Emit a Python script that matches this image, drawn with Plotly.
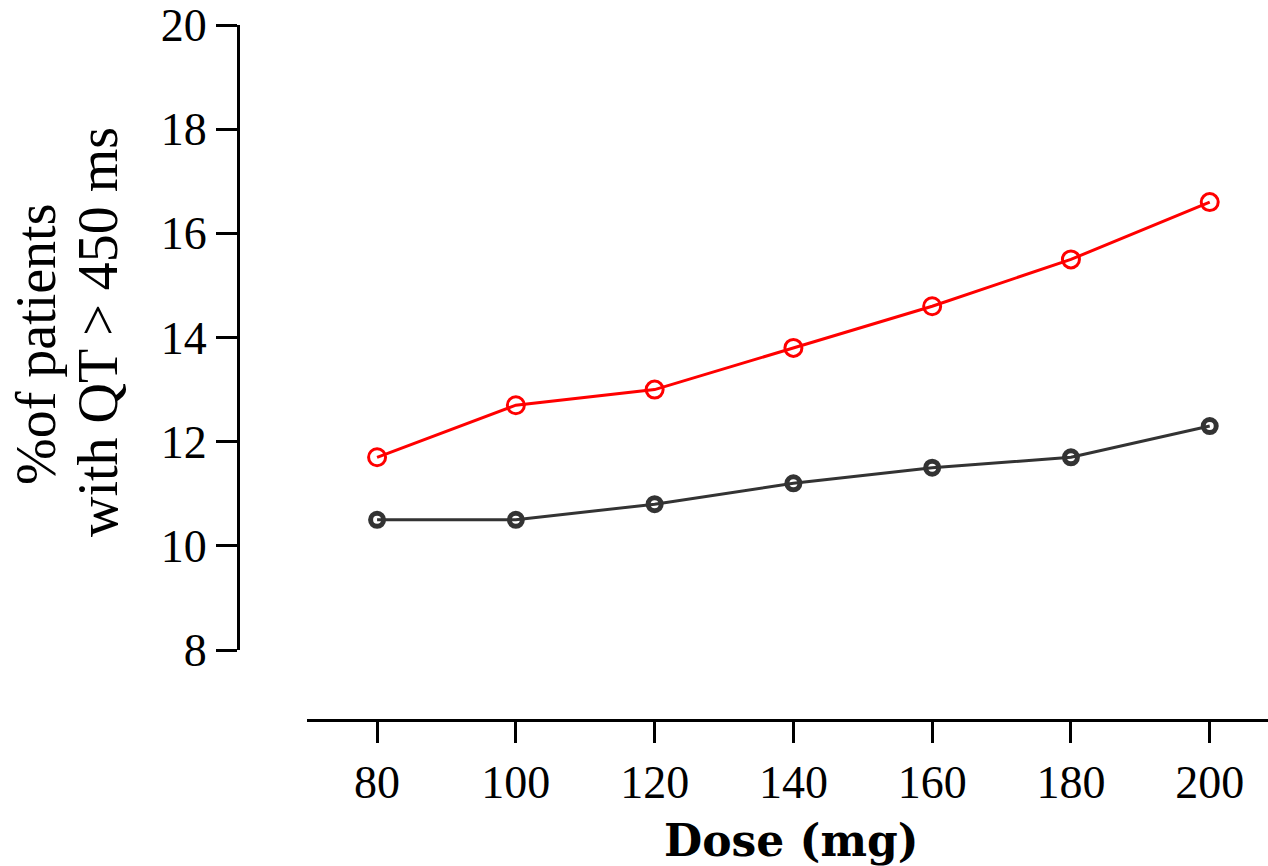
import plotly.graph_objects as go

dose = [80, 100, 120, 140, 160, 180, 200]
red_series = [11.7, 12.7, 13.0, 13.8, 14.6, 15.5, 16.6]
black_series = [10.5, 10.5, 10.8, 11.2, 11.5, 11.7, 12.3]
y_ticks = [8, 10, 12, 14, 16, 18, 20]
y_title_lines = ["%of patients", "with QT > 450 ms"]
x_title = "Dose (mg)"

W, H = 1268, 866
ML, MR, MT, MB = 238, 0, 25, 146
pw, ph = W - ML - MR, H - MT - MB

font = "Liberation Serif, Times New Roman, serif"
bold_font = "DejaVu Serif, serif"

fig = go.Figure()
fig.add_trace(go.Scatter(
    x=dose, y=black_series, mode="lines+markers",
    line=dict(color="#333333", width=3),
    marker=dict(symbol="circle-open", size=13, color="#333333", line=dict(width=5, color="#333333")),
    showlegend=False))
fig.add_trace(go.Scatter(
    x=dose, y=red_series, mode="lines+markers",
    line=dict(color="#ff0000", width=3),
    marker=dict(symbol="circle-open", size=17, color="#ff0000", line=dict(width=3, color="#ff0000")),
    showlegend=False))

x_dom0 = (307 - ML) / pw
y_dom0 = (720 - 650) / ph

fig.update_layout(
    width=W, height=H,
    margin=dict(l=ML, r=MR, t=MT, b=MB, pad=0),
    plot_bgcolor="white", paper_bgcolor="white",
    font=dict(family=font, size=46, color="black"),
    xaxis=dict(domain=[x_dom0, 1], range=[69.9, 208.4], anchor="free", position=0,
               tickvals=dose, ticks="outside", ticklen=21, tickwidth=3, tickcolor="black",
               showline=True, linewidth=3, linecolor="black", showgrid=False, zeroline=False,
               tickfont=dict(family=font, size=46)),
    yaxis=dict(domain=[y_dom0, 1], range=[8, 20], anchor="free", position=0,
               tickvals=y_ticks, ticks="outside", ticklen=21, tickwidth=3, tickcolor="black",
               showline=True, linewidth=3, linecolor="black", showgrid=False, zeroline=False,
               tickfont=dict(family=font, size=46)),
    annotations=[
        dict(text=y_title_lines[0], xref="paper", yref="paper",
             x=(36 - ML) / pw, y=(720 - 345) / ph, textangle=-90, showarrow=False,
             xanchor="center", yanchor="middle", font=dict(family=font, size=56)),
        dict(text=y_title_lines[1], xref="paper", yref="paper",
             x=(98 - ML) / pw, y=(720 - 332) / ph, textangle=-90, showarrow=False,
             xanchor="center", yanchor="middle", font=dict(family=font, size=56)),
        dict(text="<b>" + x_title + "</b>", xref="paper", yref="paper",
             x=(791 - ML) / pw, y=(720 - 840) / ph, showarrow=False,
             xanchor="center", yanchor="middle", font=dict(family=bold_font, size=44)),
    ],
)

fig.write_html("out.html")
